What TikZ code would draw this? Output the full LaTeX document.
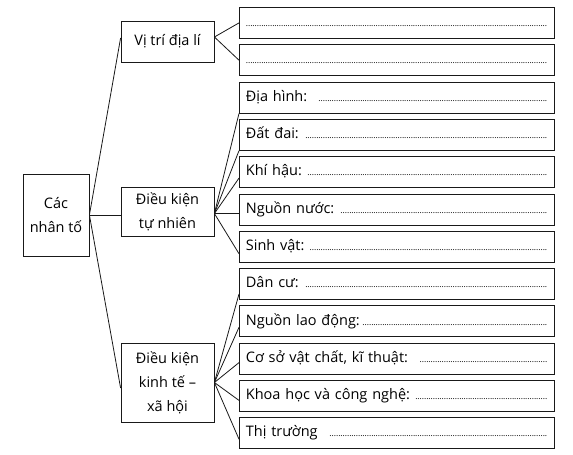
\documentclass[tikz,border=0pt]{standalone}
\usepackage{fontspec}
\setmainfont{Open Sans}
\newcommand{\dotline}{\leaders\hbox to 2.2pt{\hss\fontsize{8.5}{8.5}\selectfont.\hss}\hskip 0pt plus 1filll\kern0pt}
\begin{document}
\begin{tikzpicture}[x=1pt,y=-1pt,
  box/.style={draw=black!90, line width=0.8pt, inner sep=0pt},
  leftbox/.style={box, align=center, font=\fontsize{14.5}{24}\selectfont},
  rbox/.style={box, anchor=north west, minimum width=315pt, minimum height=31pt,
    text width=302pt, inner xsep=6.5pt, align=left, text height=10.5pt, text depth=3pt,
    font=\fontsize{14.5}{16}\selectfont},
  conn/.style={line width=0.8pt, black!90}]
\useasboundingbox (0,0) rectangle (573,455);

% left boxes
\node[leftbox, minimum width=66pt, minimum height=82pt] (cac) at (56,215) {Các\\nhân tố};
\node[leftbox, minimum width=93pt, minimum height=41pt] (vt) at (167.5,41.5) {Vị trí địa lí};
\node[leftbox, minimum width=93pt, minimum height=49pt] (tn) at (167.5,211.5) {Điều kiện\\tự nhiên};
\node[leftbox, minimum width=93pt, minimum height=79pt] (kt) at (167.5,382.5) {Điều kiện\\kinh tế –\\xã hội};

% right boxes
\node[rbox] (r1) at (239,7) {\dotline};
\node[rbox] (r2) at (239,44.3) {\dotline};
\node[rbox] (r3) at (239,81.6) {Địa hình:\ \ \dotline};
\node[rbox] (r4) at (239,118.9) {Đất đai:\ \dotline};
\node[rbox] (r5) at (239,156.2) {Khí hậu:\ \dotline};
\node[rbox] (r6) at (239,193.5) {Nguồn nước:\ \dotline};
\node[rbox] (r7) at (239,230.8) {Sinh vật:\ \dotline};
\node[rbox] (r8) at (239,268.1) {Dân cư:\ \dotline};
\node[rbox] (r9) at (239,305.4) {Nguồn lao động:\,\dotline};
\node[rbox] (r10) at (239,342.7) {Cơ sở vật chất, kĩ thuật:\ \ \dotline};
\node[rbox] (r11) at (239,380) {Khoa học và công nghệ:\ \dotline};
\node[rbox] (r12) at (239,417.3) {Thị trường\ \ \dotline};

% connectors from "Các nhân tố"
\draw[conn] (cac.east) -- ([yshift=3.5pt]vt.west);
\draw[conn] (cac.east) -- (cac.east -| tn.west);
\draw[conn] (cac.east) -- ([yshift=-5.5pt]kt.west);

% Vị trí địa lí
\coordinate (vf) at ([yshift=4.5pt]vt.east);
\draw[conn] (vf) -- (r1.west);
\draw[conn] (vf) -- (r2.west);

% Điều kiện tự nhiên
\coordinate (tf) at ([yshift=-2pt]tn.east);
\draw[conn] (tf) -- (r3.south west);
\draw[conn] (tf) -- (r4.south west);
\draw[conn] (tf) -- ([yshift=-6pt]r5.west);
\draw[conn] (tf) -- (tf -| r6.west);
\draw[conn] (tf) -- ([yshift=-7pt]r7.west);

% Điều kiện kinh tế - xã hội
\coordinate (kf) at (kt.east);
\draw[conn] (kf) -- ([yshift=-10pt]r8.west);
\draw[conn] (kf) -- ([yshift=-6pt]r9.west);
\draw[conn] (kf) -- ([yshift=-4pt]r10.west);
\draw[conn] (kf) -- ([yshift=-4.5pt]r11.west);
\draw[conn] (kf) -- ([yshift=-6pt]r12.west);
\end{tikzpicture}
\end{document}
